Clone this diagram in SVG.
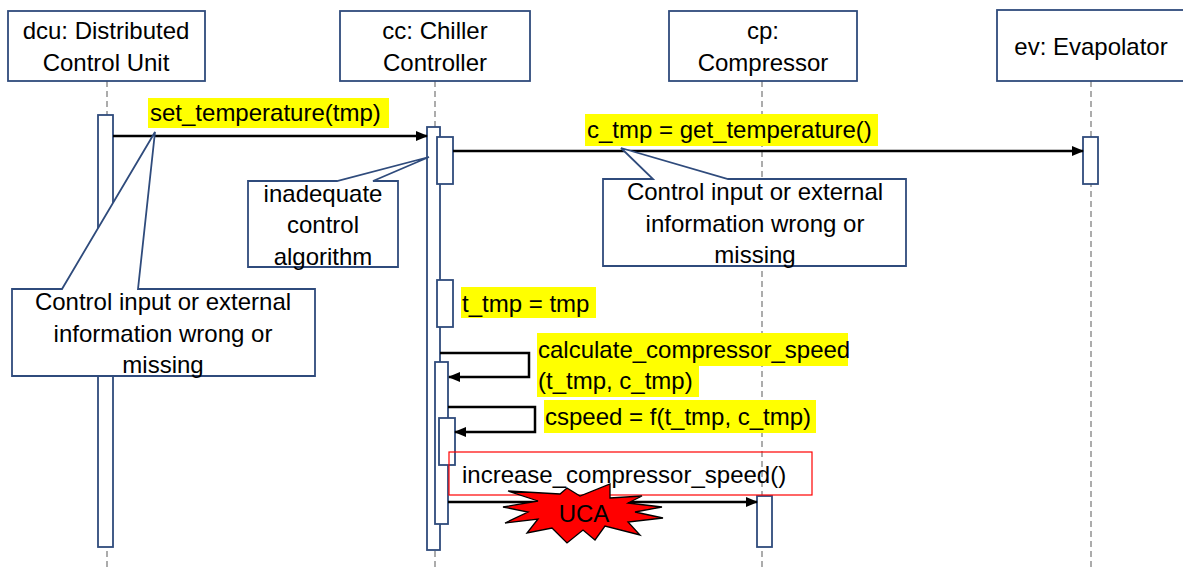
<svg xmlns="http://www.w3.org/2000/svg" width="1183" height="569" viewBox="0 0 1183 569">
<style>
.box{fill:#fff;stroke:#2F4B7C;stroke-width:1.8}
.act{fill:#fff;stroke:#2F4B7C;stroke-width:1.8}
.life{stroke:#808080;stroke-width:1.3;stroke-dasharray:6,4;fill:none}
.msg{stroke:#000;stroke-width:2.5;fill:none}
.t{font-family:"Liberation Sans",Arial,sans-serif;font-size:24px;fill:#000}
.c{text-anchor:middle}
.hl{fill:#FFFF00}
</style>
<defs>
<marker id="ah" markerWidth="12" markerHeight="10" refX="11" refY="5" orient="auto" markerUnits="userSpaceOnUse">
<path d="M0,0 L12,5 L0,10 Z" fill="#000"/>
</marker>
</defs>
<rect width="1183" height="569" fill="#fff"/>
<g id="lifelines">
<line class="life" x1="107" y1="81" x2="107" y2="569"/>
<line class="life" x1="435" y1="81" x2="435" y2="569"/>
<line class="life" x1="762" y1="81" x2="762" y2="569"/>
<line class="life" x1="1091" y1="81" x2="1091" y2="569"/>
</g>
<g id="dcu">
<rect class="box" x="8" y="11" width="197" height="70"/>
<text class="t c" x="106" y="39">dcu: Distributed</text>
<text class="t c" x="106" y="71">Control Unit</text>
<rect class="act" x="98" y="115" width="15" height="432"/>
</g>
<g id="cc">
<rect class="box" x="340" y="11" width="190" height="70"/>
<text class="t c" x="435" y="39">cc: Chiller</text>
<text class="t c" x="435" y="71">Controller</text>
<rect class="act" x="427" y="127" width="13" height="423"/>
<rect class="act" x="437" y="137" width="16" height="47"/>
<rect class="act" x="437" y="280" width="16" height="47"/>
<rect class="act" x="435" y="362" width="13" height="162"/>
<rect class="act" x="439" y="418" width="16" height="47"/>
</g>
<g id="cp">
<rect class="box" x="669" y="11" width="188" height="70"/>
<text class="t c" x="763" y="39">cp:</text>
<text class="t c" x="763" y="71">Compressor</text>
<rect class="act" x="757" y="496" width="15" height="51"/>
</g>
<g id="ev">
<rect class="box" x="997" y="10" width="190" height="71"/>
<text class="t c" x="1091" y="55">ev: Evapolator</text>
<rect class="act" x="1083" y="137" width="15" height="47"/>
</g>
<g id="connectors">
<line class="msg" x1="113" y1="136" x2="427" y2="136" marker-end="url(#ah)"/>
<line class="msg" x1="453" y1="151" x2="1083" y2="151" marker-end="url(#ah)"/>
<polyline class="msg" points="440,353 529,353 529,377 449,377" marker-end="url(#ah)"/>
<polyline class="msg" points="448,407 535,407 535,432 455,432" marker-end="url(#ah)"/>
<line class="msg" x1="448" y1="502" x2="757" y2="502" marker-end="url(#ah)"/>
</g>
<g id="labels">
<rect class="hl" x="148" y="98" width="241" height="30"/>
<text class="t" x="150" y="121">set_temperature(tmp)</text>
<rect class="hl" x="585" y="114" width="293" height="32"/>
<text class="t" x="587" y="138">c_tmp = get_temperature()</text>
<rect class="hl" x="461" y="287" width="135" height="31"/>
<text class="t" x="462" y="312">t_tmp = tmp</text>
<rect class="hl" x="537" y="333" width="311" height="33"/>
<rect class="hl" x="537" y="366" width="162" height="31"/>
<text class="t" x="538" y="358">calculate_compressor_speed</text>
<text class="t" x="538" y="389">(t_tmp, c_tmp)</text>
<rect class="hl" x="544" y="400" width="272" height="33"/>
<text class="t" x="545" y="425">cspeed = f(t_tmp, c_tmp)</text>
</g>
<g id="uca-message">
<rect x="449" y="452" width="363" height="43" fill="none" stroke="#FF0000" stroke-width="1.2"/>
<text class="t" x="462" y="483">increase_compressor_speed()</text>
</g>
<g id="uca">
<polygon points="503,507 538,501 508,491 560,494 567,488 580,496 610,484 610,498 642,496 628,503 662,507 635,512 663,518 628,522 640,535 605,526 595,540 583,530 567,543 552,528 527,533 538,519 505,523 528,512" fill="#FF0000" stroke="#000" stroke-width="1.3"/>
<text class="t c" x="584" y="522">UCA</text>
</g>
<g id="callout-dcu">
<path class="box" d="M12,289 L62,289 L155,132 L138,289 L315,289 L315,376 L12,376 Z"/>
<text class="t c" x="163" y="310">Control input or external</text>
<text class="t c" x="163" y="342">information wrong or</text>
<text class="t c" x="163" y="373">missing</text>
</g>
<g id="callout-cc">
<path class="box" d="M248,181 L337,181 L429,157 L373,181 L398,181 L398,267 L248,267 Z"/>
<text class="t c" x="323" y="202">inadequate</text>
<text class="t c" x="323" y="233">control</text>
<text class="t c" x="323" y="265">algorithm</text>
</g>
<g id="callout-ev">
<path class="box" d="M603,179 L653,179 L621,148 L728,179 L906,179 L906,266 L603,266 Z"/>
<text class="t c" x="755" y="200">Control input or external</text>
<text class="t c" x="755" y="232">information wrong or</text>
<text class="t c" x="755" y="263">missing</text>
</g>
</svg>
